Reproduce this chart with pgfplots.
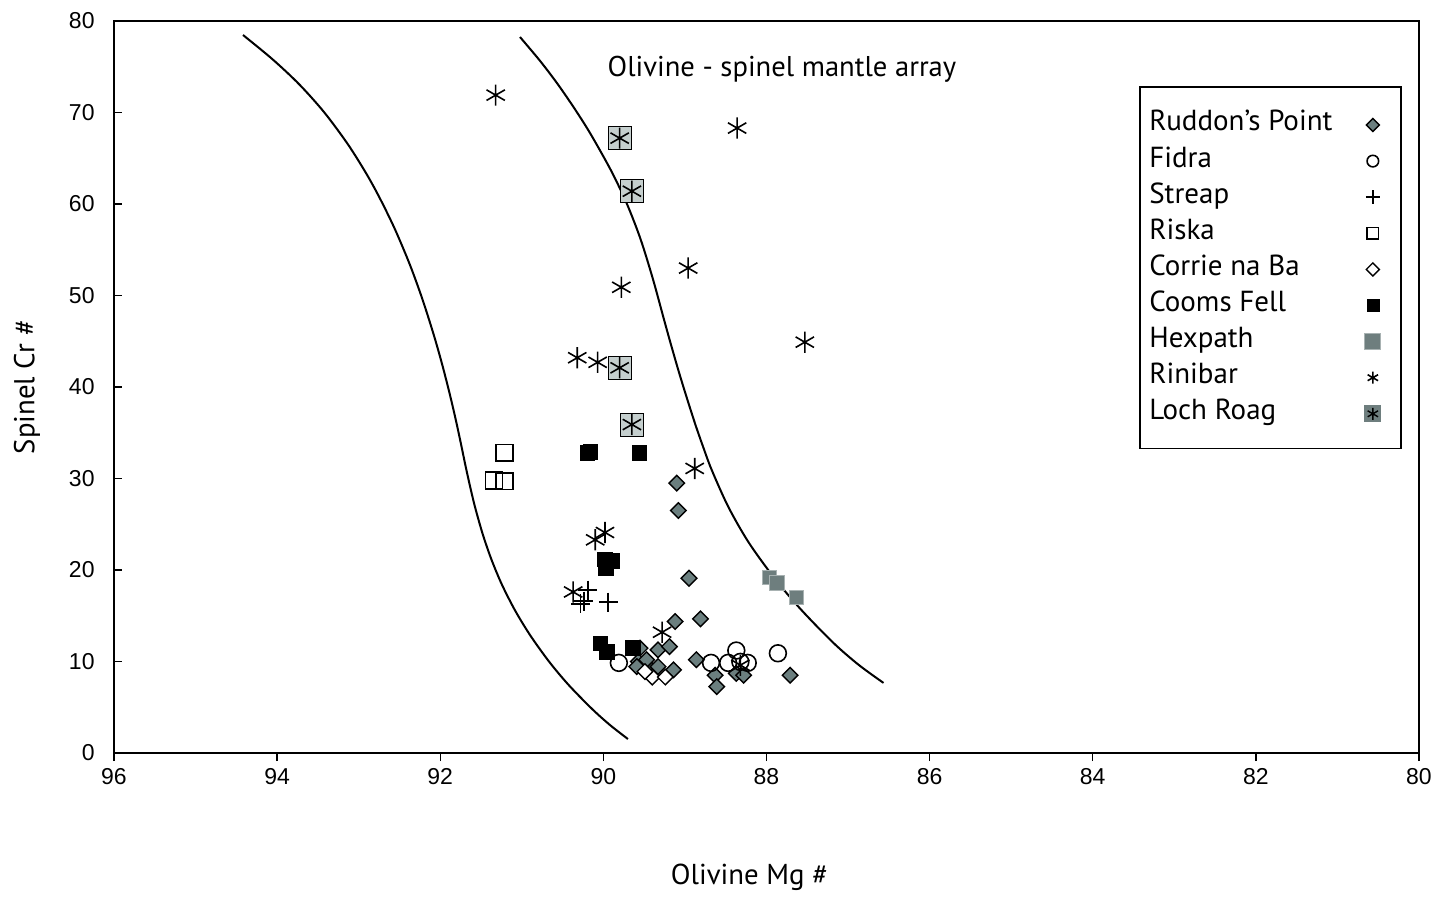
\documentclass[border=0pt]{standalone}
\usepackage{pgfplots}
\pgfplotsset{compat=1.18}
\usepackage{fontspec}
\setmainfont{PT Sans}
\newfontfamily\arialf{Liberation Sans}
\definecolor{dgray}{HTML}{6B7F7F}
\definecolor{hgray}{HTML}{6E7E7E}
\definecolor{lgray}{HTML}{C5CFCE}
\begin{document}
\begin{tikzpicture}
\path[use as bounding box] (-57pt,-71.5pt) rectangle (669pt,376.5pt);
\begin{axis}[
  at={(0,0)}, anchor=south west,
  width=652.5pt, height=366pt, scale only axis,
  x dir=reverse, xmin=80, xmax=96, ymin=0, ymax=80,
  xtick={80,82,...,96}, ytick={0,10,...,80},
  xtick pos=bottom, ytick pos=left,
  tick align=inside, major tick length=4pt,
  major x tick style={yshift=-4pt},
  tick style={black, line width=0.7pt},
  axis line style={black, line width=0.8pt},
  /pgf/number format/assume math mode=true,
  ticklabel style={font=\arialf\fontsize{11.5}{13}\selectfont},
  xticklabel style={inner sep=0pt, anchor=north, yshift=-7.5pt},
  yticklabel style={inner sep=0pt, anchor=east, xshift=-9.5pt},
  xlabel={Olivine Mg \#}, ylabel={Spinel Cr \#},
  label style={font=\fontsize{14.4}{16}\selectfont},
  xlabel style={at={(axis description cs:0.487,-0.170)}, anchor=center},
  ylabel style={at={(axis description cs:-0.0667,0.5)}, anchor=center},
  legend plot pos=right, legend cell align=left,
  legend style={draw=none, fill=none, at={(rel axis cs:0.7915,0.879)}, anchor=north west,
    font=\fontsize{14.5}{16}\selectfont, inner sep=0pt, row sep=3.05pt, column sep=15pt,
    nodes={text height=9pt, text depth=3pt, inner ysep=1.5pt, inner xsep=1pt}},
  clip=false,
]
% mantle array curves
\addplot[black, line width=1pt, smooth, forget plot] coordinates {
(94.418,78.47)(94.059,75.84)(93.732,73.11)(93.424,70.04)(93.133,66.54)(92.902,63.26)(92.734,60.52)
(92.555,57.24)(92.374,53.41)(92.222,49.69)(92.081,45.75)(91.976,42.46)(91.882,39.18)(91.810,36.44)
(91.744,33.71)(91.688,31.30)(91.625,28.78)(91.568,26.70)(91.477,23.86)(91.371,21.12)(91.243,18.39)
(91.080,15.54)(90.892,12.80)(90.663,9.96)(90.426,7.44)(90.139,4.82)(89.919,3.06)(89.699,1.53)};
\addplot[black, line width=1pt, smooth, forget plot] coordinates {
(91.022,78.25)(90.774,75.62)(90.560,73.11)(90.349,70.37)(90.155,67.63)(89.901,63.58)(89.709,59.97)
(89.543,56.14)(89.391,51.76)(89.257,47.39)(89.168,44.54)(89.076,41.70)(88.978,38.85)(88.872,35.90)
(88.778,33.49)(88.673,30.97)(88.469,26.92)(88.216,22.98)(87.887,18.93)(87.574,15.65)(87.180,12.04)
(86.869,9.63)(86.565,7.66)};
% legend box
\draw[black, line width=0.8pt, fill=white] (rel axis cs:0.7862,0.4159) rectangle (rel axis cs:0.9862,0.9097);
\node[font=\fontsize{14.3}{16}\selectfont] at (axis cs:87.81,74.75) {Olivine - spinel mantle array};
% Ruddon's Point
\addplot[only marks, mark=square*, mark size=2.75pt, mark options={rotate=45, fill=dgray, draw=black, line width=0.7pt},
  legend image post style={mark size=2.3pt}] coordinates {
(89.10,29.5)(89.08,26.5)(88.95,19.1)(88.81,14.66)(89.12,14.37)(89.55,11.46)(89.33,11.27)(89.19,11.63)
(89.57,10.0)(89.59,9.45)(89.41,9.08)(89.33,9.45)(89.14,9.08)(89.47,10.2)(88.86,10.2)(88.63,8.5)(88.61,7.26)
(88.37,8.7)(88.28,8.5)(87.71,8.5)};
\addlegendentry{Ruddon’s Point}
% Fidra
\addplot[only marks, mark=o, mark size=4.2pt, mark options={draw=black, line width=0.8pt},
  legend image post style={mark size=2.9pt}] coordinates {
(89.81,9.85)(88.68,9.85)(88.47,9.85)(88.37,11.2)(88.32,9.96)(88.23,9.85)(87.86,10.9)};
\addlegendentry{Fidra}
% Streap
\addplot[only marks, mark=+, mark size=4.75pt, mark options={draw=black, line width=0.8pt},
  legend image post style={mark size=3.5pt}] coordinates {
(90.19,17.8)(89.94,16.5)(90.28,16.3)(90.24,16.6)};
\addlegendentry{Streap}
% Riska
\addplot[only marks, mark=square, mark size=4.2pt, mark options={draw=black, line width=0.8pt},
  legend image post style={mark size=2.8pt}] coordinates {
(91.21,32.8)(91.34,29.8)(91.21,29.7)};
\addlegendentry{Riska}
% Corrie na Ba
\addplot[only marks, mark=square*, mark size=2.75pt, mark options={rotate=45, fill=white, draw=black, line width=0.7pt},
  legend image post style={mark size=2.3pt}] coordinates {
(89.40,8.3)(89.24,8.3)(89.49,8.9)};
\addlegendentry{Corrie na Ba}
% Cooms Fell
\addplot[only marks, mark=square*, mark size=3.6pt, mark options={fill=black, draw=black, line width=0.3pt},
  legend image post style={mark size=3pt}] coordinates {
(90.20,32.8)(90.16,32.9)(89.56,32.8)(89.98,21.2)(89.89,21.0)(89.97,20.2)(90.04,12.0)(89.96,11.05)(89.64,11.5)};
\addlegendentry{Cooms Fell}
% Hexpath
\addplot[only marks, mark=square*, mark size=3.6pt, mark options={fill=hgray, draw=hgray!60, line width=0.5pt},
  legend image post style={mark size=4pt}] coordinates {
(87.96,19.15)(87.87,18.6)(87.63,17.0)};
\addlegendentry{Hexpath}
% Rinibar
\addplot[only marks, mark=asterisk, mark size=5.3pt, mark options={draw=black, line width=0.8pt},
  legend image post style={mark size=3pt}] coordinates {
(91.32,71.9)(88.36,68.3)(88.96,53.0)(89.78,50.9)(87.53,44.9)(90.32,43.2)(90.07,42.7)(88.88,31.1)
(89.98,24.1)(90.10,23.3)(90.37,17.6)(89.28,13.2)(88.32,9.6)};
\addlegendentry{Rinibar}
% Loch Roag
\addplot[only marks, mark=square*, mark size=5.8pt, mark options={fill=lgray, draw=none}, forget plot] coordinates {
(89.80,67.2)(89.65,61.4)(89.80,42.1)(89.65,35.9)};
\addplot[only marks, mark=asterisk, mark size=5.3pt, mark options={draw=black, line width=0.8pt}, forget plot] coordinates {
(89.80,67.2)(89.65,61.4)(89.80,42.1)(89.65,35.9)};
\addlegendimage{legend image code/.code={
  \fill[hgray] (0.3cm-4pt,-4pt) rectangle (0.3cm+4pt,4pt);
  \draw[black, line width=0.7pt, mark size=3pt] plot[mark=asterisk] coordinates {(0.3cm,0cm)};
}}
\addlegendentry{Loch Roag}
\end{axis}
\end{tikzpicture}
\end{document}
